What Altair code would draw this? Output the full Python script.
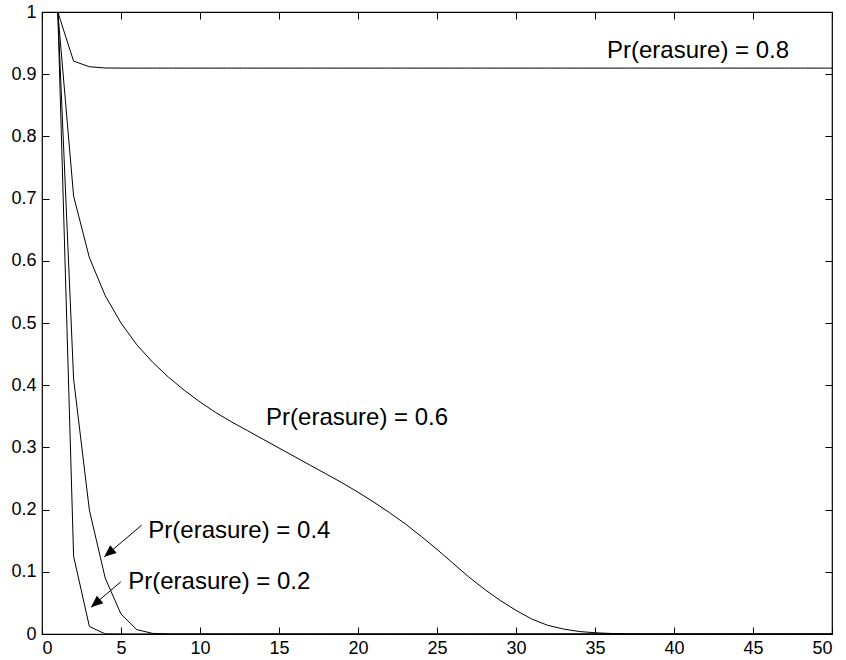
import math
import altair as alt
import pandas as pd

# ---------------- data ----------------
x_vals = list(range(1, 51))

p02 = [1.0, 0.125, 0.012, 0.0002] + [0.0] * 46
p04 = [1.0, 0.41, 0.199, 0.090, 0.032, 0.007, 0.001, 0.0001] + [0.0] * 42
p06 = [1.0, 0.704, 0.605, 0.544, 0.500, 0.465, 0.437, 0.413, 0.392, 0.373,
       0.356, 0.341, 0.327, 0.313, 0.299, 0.285, 0.271, 0.257, 0.243, 0.228,
       0.212, 0.195, 0.177, 0.157, 0.136, 0.114, 0.092, 0.072, 0.054, 0.038,
       0.024, 0.014, 0.008, 0.004, 0.002, 0.0009, 0.0004, 0.0001] + [0.0] * 12
p08 = [1.0, 0.921, 0.912, 0.910] + [0.9098] * 46

series_names = ["0.2", "0.4", "0.6", "0.8"]
series_values = [p02, p04, p06, p08]

x_ticks = [0, 5, 10, 15, 20, 25, 30, 35, 40, 45, 50]
y_ticks = [0, 0.1, 0.2, 0.3, 0.4, 0.5, 0.6, 0.7, 0.8, 0.9, 1]

ann_text = ["Pr(erasure) = 0.8", "Pr(erasure) = 0.6",
            "Pr(erasure) = 0.4", "Pr(erasure) = 0.2"]
ann_x = [35.76, 14.18, 6.73, 5.46]
ann_y = [0.926, 0.336, 0.155, 0.073]

arrow_x = [6.31, 4.99]
arrow_y = [0.175, 0.084]
arrow_x2 = [3.94, 3.10]
arrow_y2 = [0.124, 0.043]

# ---------------- build tables ----------------
W, H = 790, 622
rows = []
for name, vals in zip(series_names, series_values):
    for xv, yv in zip(x_vals, vals):
        rows.append({"x": xv, "y": yv, "series": name})
df = pd.DataFrame(rows)

ann_df = pd.DataFrame({"x": ann_x, "y": ann_y, "text": ann_text})

angles = []
for xs_, ys_, xe_, ye_ in zip(arrow_x, arrow_y, arrow_x2, arrow_y2):
    dx = (xe_ - xs_) * W / 50.0
    dy = -(ye_ - ys_) * H / 1.0
    a = math.degrees(math.atan2(dx, -dy)) % 360
    angles.append(a)
arr_df = pd.DataFrame({"x": arrow_x, "y": arrow_y, "x2": arrow_x2,
                       "y2": arrow_y2, "angle": angles})

FONT = "Liberation Sans"
xscale = alt.Scale(domain=[0, 50], nice=False, zero=False)
yscale = alt.Scale(domain=[0, 1], nice=False, zero=False)

label_x_axis = alt.Axis(values=x_ticks, format="~g", tickSize=0, domain=False,
                        grid=False, labelPadding=5, title=None,
                        labelFontSize=18, labelFont=FONT, labelColor="black")
label_y_axis = alt.Axis(values=y_ticks, format="~g", tickSize=0, domain=False,
                        grid=False, labelPadding=6, title=None,
                        labelFontSize=18, labelFont=FONT, labelColor="black")

lines = alt.Chart(df).mark_line(color="black", strokeWidth=1).encode(
    x=alt.X("x:Q", scale=xscale, axis=label_x_axis),
    y=alt.Y("y:Q", scale=yscale, axis=label_y_axis),
    detail="series:N",
)

def tick_axis(vals, orient, offset):
    return alt.Axis(values=vals, orient=orient, offset=offset, labels=False,
                    domain=False, grid=False, tickSize=7, tickColor="black",
                    tickWidth=1, title=None)

# inward ticks on bottom and left
ticks_a = alt.Chart(df).mark_point(opacity=0).encode(
    x=alt.X("x:Q", scale=xscale, axis=tick_axis(x_ticks, "top", -H)),
    y=alt.Y("y:Q", scale=yscale, axis=tick_axis(y_ticks, "right", -W)),
)
# inward ticks on top and right
ticks_b = alt.Chart(df).mark_point(opacity=0).encode(
    x=alt.X("x:Q", scale=xscale, axis=tick_axis(x_ticks, "bottom", -H)),
    y=alt.Y("y:Q", scale=yscale, axis=tick_axis(y_ticks, "left", -W)),
)

texts = alt.Chart(ann_df).mark_text(
    align="left", baseline="alphabetic", fontSize=24, font=FONT, color="black"
).encode(
    x=alt.X("x:Q", scale=xscale, axis=None),
    y=alt.Y("y:Q", scale=yscale, axis=None),
    text="text:N",
)

shafts = alt.Chart(arr_df).mark_rule(color="black", strokeWidth=1).encode(
    x=alt.X("x:Q", scale=xscale, axis=None),
    y=alt.Y("y:Q", scale=yscale, axis=None),
    x2="x2:Q",
    y2="y2:Q",
)

heads = alt.Chart(arr_df).mark_point(
    shape="M0,0 L-0.42,1.0 L0.42,1.0 Z", size=576, filled=True,
    color="black", opacity=1, strokeWidth=0
).encode(
    x=alt.X("x2:Q", scale=xscale, axis=None),
    y=alt.Y("y2:Q", scale=yscale, axis=None),
    angle=alt.Angle("angle:Q", scale=None),
)

chart = alt.layer(lines, ticks_a, ticks_b, texts, shafts, heads).resolve_axis(
    x="independent", y="independent"
).properties(
    width=W, height=H,
    autosize=alt.AutoSizeParams(type="none"),
    padding={"left": 42, "top": 12, "right": 14, "bottom": 26},
    background="white",
).configure_view(
    stroke="black", strokeWidth=1.2
)

chart.save("out.html", embed_options={"renderer": "svg", "actions": False})
